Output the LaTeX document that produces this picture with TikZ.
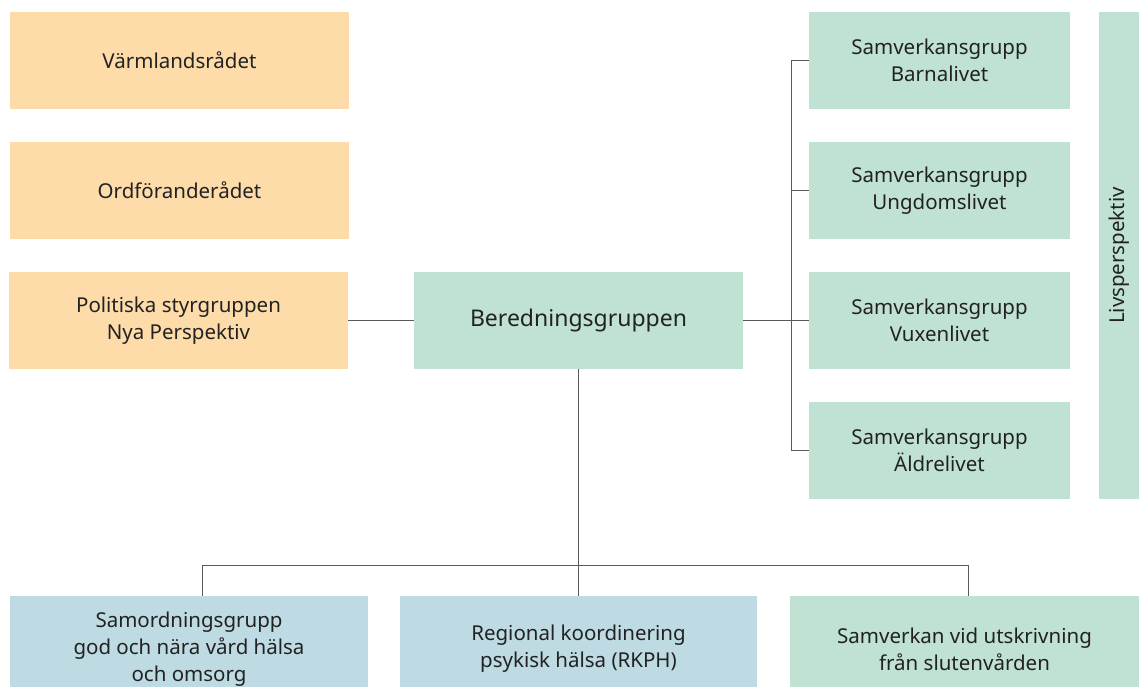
\documentclass[tikz,border=0pt]{standalone}
\usepackage{fontspec}
\setmainfont{Noto Sans}
\definecolor{rodbox}{RGB}{253,220,169}
\definecolor{gronbox}{RGB}{192,226,211}
\definecolor{blabox}{RGB}{190,219,227}
\definecolor{linje}{RGB}{90,90,90}
\definecolor{text}{RGB}{34,34,34}
\begin{document}
\begin{tikzpicture}[x=1pt, y=-1pt,
        box/.style={inner sep=0pt, align=center, text=text, font=\fontsize{20.5}{27}\selectfont},
        orangebox/.style={box, fill=rodbox, minimum width=339pt, minimum height=97pt},
        greenbox/.style={box, fill=gronbox, minimum width=261pt, minimum height=97pt},
        bottombox/.style={box, minimum height=106pt},
        link/.style={draw=linje, line width=1pt}
    ]
    \useasboundingbox (0,0) rectangle (1139,686);
    \clip (0,0) rectangle (1139,686);

    % Vänstra rådet
    \node[orangebox] (varm) at (179.5,60.5) {Värmlandsrådet};
    \node[orangebox] (ordf) at (179.5,190.5) {Ordföranderådet};
    \node[orangebox] (polit) at (178.5,320.5) {Politiska styrgruppen\\Nya Perspektiv};

    % Mitten
    \node[greenbox, minimum width=329pt, font=\fontsize{23}{30}\selectfont] (bered) at (578.5,320.5) {Beredningsgruppen};

    % Samverkansgrupper
    \node[greenbox] (barn) at (939.5,60.5) {Samverkansgrupp\\Barnalivet};
    \node[greenbox] (ungd) at (939.5,190.5) {Samverkansgrupp\\Ungdomslivet};
    \node[greenbox] (vuxen) at (939.5,320.5) {Samverkansgrupp\\Vuxenlivet};
    \node[greenbox] (aldre) at (939.5,450.5) {Samverkansgrupp\\Äldrelivet};

    % Livsperspektiv
    \node[box, fill=gronbox, rotate=90, minimum width=487pt, minimum height=40pt] (livs) at (1119,255.5) {Livsperspektiv};

    % Nedre raden
    \node[bottombox, fill=blabox, minimum width=358pt] (samord) at (189,649) {Samordningsgrupp\\god och nära vård hälsa\\och omsorg};
    \node[bottombox, fill=blabox, minimum width=357pt] (rkph) at (578.5,649) {Regional koordinering\\psykisk hälsa (RKPH)};
    \node[bottombox, fill=gronbox, minimum width=349pt] (utskr) at (964.5,649) {Samverkan vid utskrivning\\från slutenvården};

    % Linjer
    \draw[link] (polit.east) -- (bered.west);
    \draw[link] (bered.east) -- (vuxen.west);
    \coordinate (spine) at (791,0);
    \draw[link] (barn.west) -- (barn.west -| spine) -- (aldre.west -| spine) -- (aldre.west);
    \draw[link] (ungd.west) -- (ungd.west -| spine);

    \coordinate (t1) at (202,565);
    \coordinate (t2) at (578.5,565);
    \coordinate (t3) at (968,565);
    \draw[link] (bered.south) -- (t2);
    \draw[link] (t1 |- samord.north) -- (t1) -- (t3) -- (t3 |- utskr.north);
    \draw[link] (t2) -- (rkph.north);
\end{tikzpicture}
\end{document}
